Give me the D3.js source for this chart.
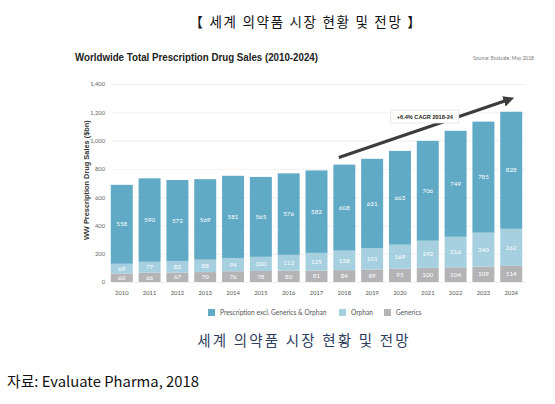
<!DOCTYPE html>
<html>
<head>
<meta charset="utf-8">
<script src="https://cdn.jsdelivr.net/npm/d3@7"></script>
<style>
  body { margin: 0; background: #fff; }
  svg { display: block; }
</style>
</head>
<body>
<div id="wrapper"></div>
<script>
// chart values
const years = ["2010","2011","2012","2013","2014","2015","2016","2017","2018","2019","2020","2021","2022","2023","2024"];
const generics = [60, 66, 67, 70, 76, 78, 80, 81, 84, 89, 95, 100, 104, 109, 114];
const orphan = [69, 77, 82, 88, 94, 100, 112, 125, 138, 151, 169, 192, 216, 240, 262];
const prescription = [558, 590, 572, 569, 581, 565, 576, 583, 608, 631, 663, 706, 749, 785, 828];
const yTicks = [0, 200, 400, 600, 800, 1000, 1200, 1400];
const seriesNames = ["Prescription excl. Generics & Orphan", "Orphan", "Generics"];
const colors = { "Generics": "#b4b3b5", "Orphan": "#a6cfe0", "Prescription excl. Generics & Orphan": "#60aac6" };

const width = 555, height = 404;
const chartFont = "Lato, 'Open Sans', sans-serif";
const krFont = "'Noto Sans CJK KR', sans-serif";

const svg = d3.select("#wrapper").append("svg")
    .attr("width", width)
    .attr("height", height);

// table for the stack
const table = years.map((y, i) => ({
    year: y,
    "Generics": generics[i],
    "Orphan": orphan[i],
    "Prescription excl. Generics & Orphan": prescription[i]
}));
const stackKeys = ["Generics", "Orphan", "Prescription excl. Generics & Orphan"];
const stacked = d3.stack().keys(stackKeys)(table);

const x = d3.scaleBand()
    .domain(years)
    .range([108, 525])
    .paddingInner(0.21)
    .paddingOuter(0.1);

const y = d3.scaleLinear()
    .domain([0, 1400])
    .range([282, 84]);

// title strip
svg.append("text")
    .attr("x", 306).attr("y", 27)
    .attr("text-anchor", "middle")
    .attr("font-family", krFont)
    .attr("font-size", 13.5)
    .attr("letter-spacing", 1.7)
    .attr("fill", "#111")
    .text("【 세계 의약품 시장 현황 및 전망 】");

svg.append("text")
    .attr("x", 75).attr("y", 61)
    .attr("font-family", "'Liberation Sans', Arial, sans-serif")
    .attr("font-weight", "bold")
    .attr("font-size", 11.5)
    .attr("textLength", 243)
    .attr("lengthAdjust", "spacingAndGlyphs")
    .attr("fill", "#222")
    .text("Worldwide Total Prescription Drug Sales (2010-2024)");

svg.append("text")
    .attr("x", 534).attr("y", 60)
    .attr("text-anchor", "end")
    .attr("font-family", chartFont)
    .attr("font-size", 5)
    .attr("fill", "#777")
    .text("Source: Evaluate, May 2018");

// grid + y axis
const yAxis = svg.append("g")
    .attr("transform", "translate(112,0)")
    .call(d3.axisLeft(y).tickValues(yTicks).tickSize(-413).tickPadding(7).tickFormat(d3.format(",")));
yAxis.select(".domain").remove();
yAxis.selectAll(".tick line").attr("stroke", "#e6e6e6").attr("stroke-width", 0.6);
yAxis.selectAll(".tick text")
    .attr("font-family", chartFont)
    .attr("font-size", 5.8)
    .attr("fill", "#666");

svg.append("text")
    .attr("transform", `translate(89,${y(720)}) rotate(-90)`)
    .attr("text-anchor", "middle")
    .attr("font-family", "'Liberation Sans', Arial, sans-serif")
    .attr("font-weight", "bold")
    .attr("font-size", 7.4)
    .attr("fill", "#333")
    .text("WW Prescription Drug Sales ($bn)");

// bars
const layers = svg.append("g").selectAll("g")
    .data(stacked)
    .join("g")
    .attr("fill", d => colors[d.key]);

layers.selectAll("rect")
    .data(d => d)
    .join("rect")
    .attr("x", d => x(d.data.year))
    .attr("y", d => y(d[1]))
    .attr("width", x.bandwidth())
    .attr("height", d => y(d[0]) - y(d[1]));

layers.selectAll("text")
    .data(d => d.map(v => ({ v, key: d.key })))
    .join("text")
    .attr("x", d => x(d.v.data.year) + x.bandwidth() / 2)
    .attr("y", d => (y(d.v[0]) + y(d.v[1])) / 2 + 2.2)
    .attr("text-anchor", "middle")
    .attr("font-family", chartFont)
    .attr("font-size", 6.3)
    .attr("fill", "#fff")
    .text(d => d.v.data[d.key]);

// x axis labels
const xAxis = svg.append("g")
    .attr("transform", "translate(0,285)")
    .call(d3.axisBottom(x).tickSize(0).tickPadding(6));
xAxis.select(".domain").remove();
xAxis.selectAll(".tick text")
    .attr("font-family", chartFont)
    .attr("font-size", 5.8)
    .attr("fill", "#555");

// CAGR arrow
const defs = svg.append("defs");
defs.append("marker")
    .attr("id", "head")
    .attr("viewBox", "0 0 10 10")
    .attr("refX", 5).attr("refY", 5)
    .attr("markerWidth", 3.4).attr("markerHeight", 3.4)
    .attr("orient", "auto")
    .append("path")
    .attr("d", "M0,0 L10,5 L0,10 z")
    .attr("fill", "#3c3c3e");

const arrowStart = { year: "2018", value: 880 };
const arrowEnd = { year: "2024", value: 1290 };
svg.append("line")
    .attr("x1", x(arrowStart.year) + x.bandwidth() * 0.25)
    .attr("y1", y(arrowStart.value))
    .attr("x2", x(arrowEnd.year) + x.bandwidth() * 0.4)
    .attr("y2", y(arrowEnd.value))
    .attr("stroke", "#3c3c3e")
    .attr("stroke-width", 3.2)
    .attr("marker-end", "url(#head)");

const cagr = svg.append("g")
    .attr("transform", `translate(${(x("2020") + x("2021")) / 2 + x.bandwidth()},${y(1170)})`);
cagr.append("rect")
    .attr("x", -34).attr("y", -6.5)
    .attr("width", 68).attr("height", 13)
    .attr("fill", "#fff")
    .attr("stroke", "#d8d8d8")
    .attr("stroke-width", 0.6);
cagr.append("text")
    .attr("y", 2)
    .attr("text-anchor", "middle")
    .attr("font-family", "'Liberation Sans', Arial, sans-serif")
    .attr("font-weight", "bold")
    .attr("font-size", 5.6)
    .attr("fill", "#222")
    .text("+6.4% CAGR 2018-24");

// legend
const legendX = [208, 339, 384];
const legend = svg.append("g").selectAll("g")
    .data(seriesNames)
    .join("g")
    .attr("transform", (d, i) => `translate(${legendX[i]},309)`);
legend.append("rect")
    .attr("width", 7).attr("height", 7)
    .attr("fill", d => colors[d]);
legend.append("text")
    .attr("x", 12).attr("y", 6)
    .attr("font-family", chartFont)
    .attr("font-size", 6.6)
    .attr("fill", "#555")
    .text(d => d);

// captions
svg.append("text")
    .attr("x", 304).attr("y", 346)
    .attr("text-anchor", "middle")
    .attr("font-family", krFont)
    .attr("font-size", 14.5)
    .attr("letter-spacing", 2.2)
    .attr("fill", "#2e4060")
    .text("세계 의약품 시장 현황 및 전망");

svg.append("text")
    .attr("x", 7).attr("y", 387)
    .attr("font-family", krFont)
    .attr("font-size", 14.5)
    .attr("textLength", 192)
    .attr("lengthAdjust", "spacingAndGlyphs")
    .attr("fill", "#111")
    .text("자료: Evaluate Pharma, 2018");
</script>
</body>
</html>
